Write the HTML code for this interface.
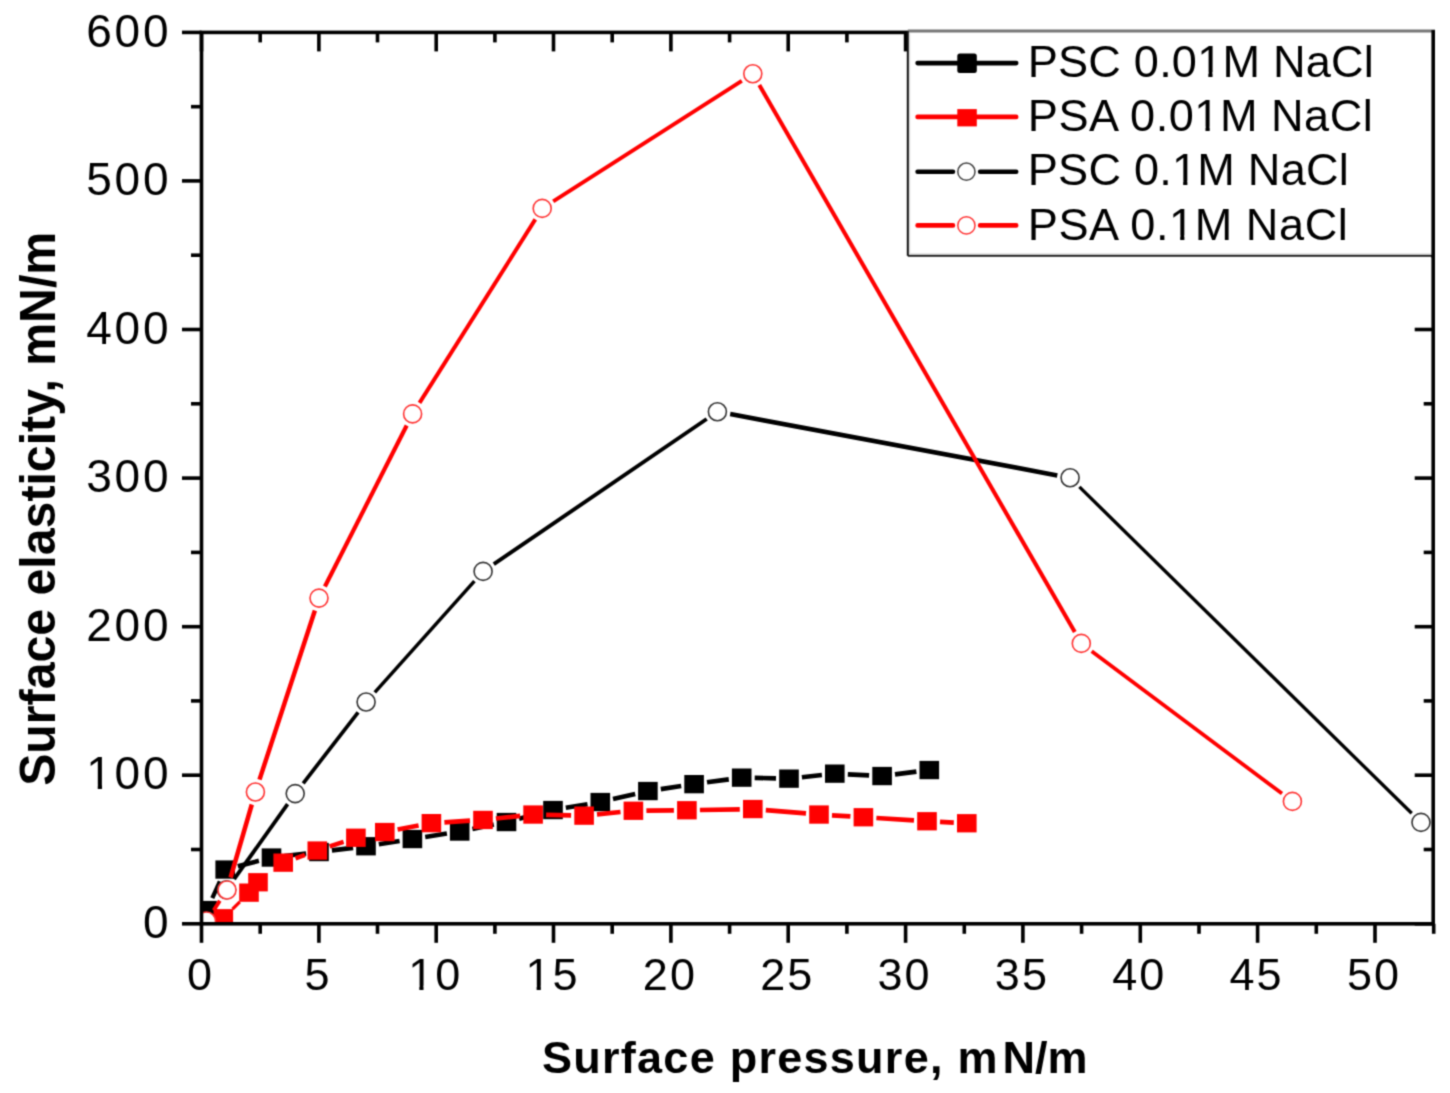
<!DOCTYPE html><html><head><meta charset="utf-8"><style>html,body{margin:0;padding:0;background:#fff;width:1450px;height:1093px;overflow:hidden}svg{position:absolute;left:0;top:0;display:block}text{font-family:"Liberation Sans",sans-serif;fill:#000}</style></head><body><svg width="1450" height="1093" viewBox="0 0 1450 1093"><defs><filter id="soft" x="0" y="0" width="1450" height="1093" filterUnits="userSpaceOnUse" color-interpolation-filters="sRGB"><feConvolveMatrix order="3" kernelMatrix="0.0361 0.1178 0.0361 0.1178 0.3844 0.1178 0.0361 0.1178 0.0361" edgeMode="duplicate"/></filter><clipPath id="pc"><rect x="203.0" y="32.4" width="1230.2" height="890.1"/></clipPath></defs><g filter="url(#soft)"><rect width="1450" height="1093" fill="#fff"/><g stroke="#000" stroke-width="3.6" fill="none"><line x1="182.0" y1="923.8" x2="201.5" y2="923.8"/><line x1="1414.7" y1="923.8" x2="1433.2" y2="923.8"/><line x1="191.0" y1="849.5" x2="201.5" y2="849.5"/><line x1="1423.7" y1="849.5" x2="1433.2" y2="849.5"/><line x1="182.0" y1="775.2" x2="201.5" y2="775.2"/><line x1="1414.7" y1="775.2" x2="1433.2" y2="775.2"/><line x1="191.0" y1="700.9" x2="201.5" y2="700.9"/><line x1="1423.7" y1="700.9" x2="1433.2" y2="700.9"/><line x1="182.0" y1="626.7" x2="201.5" y2="626.7"/><line x1="1414.7" y1="626.7" x2="1433.2" y2="626.7"/><line x1="191.0" y1="552.4" x2="201.5" y2="552.4"/><line x1="1423.7" y1="552.4" x2="1433.2" y2="552.4"/><line x1="182.0" y1="478.1" x2="201.5" y2="478.1"/><line x1="1414.7" y1="478.1" x2="1433.2" y2="478.1"/><line x1="191.0" y1="403.8" x2="201.5" y2="403.8"/><line x1="1423.7" y1="403.8" x2="1433.2" y2="403.8"/><line x1="182.0" y1="329.5" x2="201.5" y2="329.5"/><line x1="1414.7" y1="329.5" x2="1433.2" y2="329.5"/><line x1="191.0" y1="255.2" x2="201.5" y2="255.2"/><line x1="182.0" y1="180.9" x2="201.5" y2="180.9"/><line x1="191.0" y1="106.7" x2="201.5" y2="106.7"/><line x1="182.0" y1="32.4" x2="201.5" y2="32.4"/><line x1="201.5" y1="923.8" x2="201.5" y2="942.8"/><line x1="201.5" y1="32.4" x2="201.5" y2="51.4"/><line x1="260.2" y1="923.8" x2="260.2" y2="933.8"/><line x1="260.2" y1="32.4" x2="260.2" y2="42.4"/><line x1="318.9" y1="923.8" x2="318.9" y2="942.8"/><line x1="318.9" y1="32.4" x2="318.9" y2="51.4"/><line x1="377.5" y1="923.8" x2="377.5" y2="933.8"/><line x1="377.5" y1="32.4" x2="377.5" y2="42.4"/><line x1="436.2" y1="923.8" x2="436.2" y2="942.8"/><line x1="436.2" y1="32.4" x2="436.2" y2="51.4"/><line x1="494.9" y1="923.8" x2="494.9" y2="933.8"/><line x1="494.9" y1="32.4" x2="494.9" y2="42.4"/><line x1="553.5" y1="923.8" x2="553.5" y2="942.8"/><line x1="553.5" y1="32.4" x2="553.5" y2="51.4"/><line x1="612.2" y1="923.8" x2="612.2" y2="933.8"/><line x1="612.2" y1="32.4" x2="612.2" y2="42.4"/><line x1="670.9" y1="923.8" x2="670.9" y2="942.8"/><line x1="670.9" y1="32.4" x2="670.9" y2="51.4"/><line x1="729.6" y1="923.8" x2="729.6" y2="933.8"/><line x1="729.6" y1="32.4" x2="729.6" y2="42.4"/><line x1="788.2" y1="923.8" x2="788.2" y2="942.8"/><line x1="788.2" y1="32.4" x2="788.2" y2="51.4"/><line x1="846.9" y1="923.8" x2="846.9" y2="933.8"/><line x1="846.9" y1="32.4" x2="846.9" y2="42.4"/><line x1="905.6" y1="923.8" x2="905.6" y2="942.8"/><line x1="905.6" y1="32.4" x2="905.6" y2="51.4"/><line x1="964.3" y1="923.8" x2="964.3" y2="933.8"/><line x1="1022.9" y1="923.8" x2="1022.9" y2="942.8"/><line x1="1081.6" y1="923.8" x2="1081.6" y2="933.8"/><line x1="1140.3" y1="923.8" x2="1140.3" y2="942.8"/><line x1="1199.0" y1="923.8" x2="1199.0" y2="933.8"/><line x1="1257.6" y1="923.8" x2="1257.6" y2="942.8"/><line x1="1316.3" y1="923.8" x2="1316.3" y2="933.8"/><line x1="1375.0" y1="923.8" x2="1375.0" y2="942.8"/><line x1="1433.7" y1="923.8" x2="1433.7" y2="933.8"/></g><g clip-path="url(#pc)"><line x1="212.3" y1="898.1" x2="219.9" y2="881.4" stroke="#000" stroke-width="4.29"/><line x1="237.8" y1="866.2" x2="258.9" y2="860.8" stroke="#000" stroke-width="4.55"/><line x1="284.4" y1="856.0" x2="306.1" y2="853.5" stroke="#000" stroke-width="4.67"/><line x1="331.9" y1="850.4" x2="353.1" y2="847.9" stroke="#000" stroke-width="4.67"/><line x1="378.8" y1="844.3" x2="399.6" y2="841.0" stroke="#000" stroke-width="4.64"/><line x1="425.2" y1="837.0" x2="446.9" y2="833.5" stroke="#000" stroke-width="4.64"/><line x1="472.4" y1="828.9" x2="493.8" y2="824.6" stroke="#000" stroke-width="4.61"/><line x1="519.1" y1="818.8" x2="540.4" y2="813.2" stroke="#000" stroke-width="4.55"/><line x1="565.8" y1="807.8" x2="587.5" y2="804.2" stroke="#000" stroke-width="4.63"/><line x1="613.0" y1="799.1" x2="635.2" y2="793.9" stroke="#000" stroke-width="4.58"/><line x1="660.8" y1="789.1" x2="681.2" y2="786.0" stroke="#000" stroke-width="4.65"/><line x1="707.0" y1="782.3" x2="728.8" y2="779.4" stroke="#000" stroke-width="4.66"/><line x1="754.7" y1="777.9" x2="776.0" y2="778.3" stroke="#000" stroke-width="4.70"/><line x1="801.9" y1="777.2" x2="821.9" y2="775.0" stroke="#000" stroke-width="4.67"/><line x1="847.8" y1="774.3" x2="869.1" y2="775.3" stroke="#000" stroke-width="4.69"/><line x1="895.0" y1="774.4" x2="916.4" y2="771.6" stroke="#000" stroke-width="4.66"/><rect x="197.2" y="900.9" width="19.6" height="18.3" fill="#000"/><rect x="215.4" y="860.4" width="19.6" height="18.3" fill="#000"/><rect x="261.7" y="848.4" width="19.6" height="18.3" fill="#000"/><rect x="309.2" y="842.9" width="19.6" height="18.3" fill="#000"/><rect x="356.2" y="837.1" width="19.6" height="18.3" fill="#000"/><rect x="402.6" y="829.9" width="19.6" height="18.3" fill="#000"/><rect x="449.9" y="822.4" width="19.6" height="18.3" fill="#000"/><rect x="496.7" y="812.9" width="19.6" height="18.3" fill="#000"/><rect x="543.2" y="800.9" width="19.6" height="18.3" fill="#000"/><rect x="590.5" y="792.9" width="19.6" height="18.3" fill="#000"/><rect x="638.1" y="781.9" width="19.6" height="18.3" fill="#000"/><rect x="684.3" y="775.0" width="19.6" height="18.3" fill="#000"/><rect x="731.9" y="768.5" width="19.6" height="18.3" fill="#000"/><rect x="779.2" y="769.5" width="19.6" height="18.3" fill="#000"/><rect x="825.0" y="764.5" width="19.6" height="18.3" fill="#000"/><rect x="872.3" y="766.9" width="19.6" height="18.3" fill="#000"/><rect x="919.5" y="760.9" width="19.6" height="18.3" fill="#000"/><line x1="232.5" y1="909.1" x2="239.8" y2="901.8" stroke="#f00" stroke-width="3.32"/><line x1="295.5" y1="858.3" x2="305.0" y2="854.8" stroke="#f00" stroke-width="4.43"/><line x1="329.6" y1="846.4" x2="343.6" y2="841.9" stroke="#f00" stroke-width="4.46"/><line x1="397.6" y1="829.6" x2="418.6" y2="825.5" stroke="#f00" stroke-width="4.62"/><line x1="444.4" y1="822.3" x2="470.0" y2="820.7" stroke="#f00" stroke-width="4.69"/><line x1="495.9" y1="818.5" x2="520.2" y2="815.9" stroke="#f00" stroke-width="4.67"/><line x1="546.1" y1="814.8" x2="571.1" y2="815.3" stroke="#f00" stroke-width="4.70"/><line x1="597.0" y1="814.3" x2="620.5" y2="812.0" stroke="#f00" stroke-width="4.68"/><line x1="646.4" y1="810.6" x2="673.9" y2="810.4" stroke="#f00" stroke-width="4.70"/><line x1="699.9" y1="810.0" x2="739.8" y2="809.3" stroke="#f00" stroke-width="4.70"/><line x1="765.8" y1="810.1" x2="806.0" y2="813.4" stroke="#f00" stroke-width="4.68"/><line x1="832.0" y1="815.3" x2="850.4" y2="816.4" stroke="#f00" stroke-width="4.69"/><line x1="876.4" y1="818.0" x2="914.0" y2="820.4" stroke="#f00" stroke-width="4.69"/><line x1="940.0" y1="821.9" x2="953.8" y2="822.6" stroke="#f00" stroke-width="4.69"/><rect x="213.5" y="909.1" width="19.6" height="18.3" fill="#f00"/><rect x="239.2" y="883.5" width="19.6" height="18.3" fill="#f00"/><rect x="248.2" y="873.1" width="19.6" height="18.3" fill="#f00"/><rect x="273.4" y="853.5" width="19.6" height="18.3" fill="#f00"/><rect x="307.5" y="841.4" width="19.6" height="18.3" fill="#f00"/><rect x="346.1" y="828.6" width="19.6" height="18.3" fill="#f00"/><rect x="375.0" y="822.9" width="19.6" height="18.3" fill="#f00"/><rect x="421.6" y="814.0" width="19.6" height="18.3" fill="#f00"/><rect x="473.2" y="810.8" width="19.6" height="18.3" fill="#f00"/><rect x="523.3" y="805.4" width="19.6" height="18.3" fill="#f00"/><rect x="574.3" y="806.5" width="19.6" height="18.3" fill="#f00"/><rect x="623.6" y="801.6" width="19.6" height="18.3" fill="#f00"/><rect x="677.1" y="801.1" width="19.6" height="18.3" fill="#f00"/><rect x="743.0" y="799.9" width="19.6" height="18.3" fill="#f00"/><rect x="809.2" y="805.4" width="19.6" height="18.3" fill="#f00"/><rect x="853.6" y="808.1" width="19.6" height="18.3" fill="#f00"/><rect x="917.2" y="812.1" width="19.6" height="18.3" fill="#f00"/><rect x="957.0" y="814.1" width="19.6" height="18.3" fill="#f00"/><line x1="234.1" y1="879.2" x2="287.6" y2="804.2" stroke="#000" stroke-width="3.82"/><line x1="303.2" y1="783.3" x2="358.1" y2="712.3" stroke="#000" stroke-width="3.72"/><line x1="374.8" y1="692.3" x2="474.4" y2="581.1" stroke="#000" stroke-width="3.50"/><line x1="493.8" y1="564.1" x2="706.7" y2="419.0" stroke="#000" stroke-width="3.88"/><line x1="730.2" y1="414.1" x2="1057.3" y2="475.4" stroke="#000" stroke-width="4.62"/><line x1="1079.4" y1="486.9" x2="1411.7" y2="813.3" stroke="#000" stroke-width="3.35"/><circle cx="226.5" cy="889.8" r="9.0" fill="#fff" stroke="#333" stroke-width="1.6"/><circle cx="295.2" cy="793.6" r="9.0" fill="#fff" stroke="#333" stroke-width="1.6"/><circle cx="366.1" cy="702" r="9.0" fill="#fff" stroke="#333" stroke-width="1.6"/><circle cx="483.1" cy="571.4" r="9.0" fill="#fff" stroke="#333" stroke-width="1.6"/><circle cx="717.4" cy="411.7" r="9.0" fill="#fff" stroke="#333" stroke-width="1.6"/><circle cx="1070.1" cy="477.8" r="9.0" fill="#fff" stroke="#333" stroke-width="1.6"/><circle cx="1421" cy="822.4" r="9.0" fill="#fff" stroke="#333" stroke-width="1.6"/><line x1="213.7" y1="910.2" x2="219.8" y2="900.8" stroke="#f00" stroke-width="3.92"/><line x1="230.6" y1="877.5" x2="251.8" y2="804.5" stroke="#f00" stroke-width="4.51"/><line x1="259.5" y1="779.6" x2="314.9" y2="610.5" stroke="#f00" stroke-width="4.47"/><line x1="324.9" y1="586.5" x2="406.7" y2="425.5" stroke="#f00" stroke-width="4.19"/><line x1="419.5" y1="402.9" x2="535.3" y2="219.4" stroke="#f00" stroke-width="3.98"/><line x1="553.2" y1="201.4" x2="741.8" y2="80.8" stroke="#f00" stroke-width="3.96"/><line x1="759.3" y1="85.1" x2="1074.8" y2="632.1" stroke="#f00" stroke-width="4.07"/><line x1="1091.7" y1="651.2" x2="1282.0" y2="793.6" stroke="#f00" stroke-width="3.76"/><circle cx="206.5" cy="921" r="9.0" fill="#fff" stroke="#f33" stroke-width="1.6"/><circle cx="227" cy="890" r="9.0" fill="#fff" stroke="#f33" stroke-width="1.6"/><circle cx="255.4" cy="792" r="9.0" fill="#fff" stroke="#f33" stroke-width="1.6"/><circle cx="319" cy="598.1" r="9.0" fill="#fff" stroke="#f33" stroke-width="1.6"/><circle cx="412.6" cy="413.9" r="9.0" fill="#fff" stroke="#f33" stroke-width="1.6"/><circle cx="542.2" cy="208.4" r="9.0" fill="#fff" stroke="#f33" stroke-width="1.6"/><circle cx="752.8" cy="73.8" r="9.0" fill="#fff" stroke="#f33" stroke-width="1.6"/><circle cx="1081.3" cy="643.4" r="9.0" fill="#fff" stroke="#f33" stroke-width="1.6"/><circle cx="1292.4" cy="801.4" r="9.0" fill="#fff" stroke="#f33" stroke-width="1.6"/></g><rect x="201.5" y="32.4" width="1231.7" height="891.4" fill="none" stroke="#000" stroke-width="3.6"/><rect x="907.8" y="31.1" width="525.7" height="224.70000000000002" fill="#fff"/><line x1="907.8" y1="31.1" x2="1435.0" y2="31.1" stroke="#777" stroke-width="3"/><line x1="907.8" y1="31.1" x2="907.8" y2="255.8" stroke="#111" stroke-width="2"/><line x1="907.8" y1="255.8" x2="1433.5" y2="255.8" stroke="#1a1a1a" stroke-width="2"/><line x1="909.8" y1="33.1" x2="909.8" y2="253.8" stroke="#d8d8d8" stroke-width="1"/><line x1="909.8" y1="253.8" x2="1433.5" y2="253.8" stroke="#d8d8d8" stroke-width="1"/><line x1="1433.2" y1="30.1" x2="1433.2" y2="257.8" stroke="#000" stroke-width="3.6"/><line x1="917.6" y1="63.1" x2="1016.2" y2="63.1" stroke="#000" stroke-width="4.6" stroke-linecap="round"/><rect x="957.3" y="53.400000000000006" width="19.5" height="19.5" rx="2.5" fill="#000"/><text x="1027.8" y="76.6" font-size="45.1" textLength="346" lengthAdjust="spacing">PSC 0.01M NaCl</text><line x1="917.6" y1="116.9" x2="1016.2" y2="116.9" stroke="#f00" stroke-width="4.6" stroke-linecap="round"/><rect x="957.3" y="109.10000000000001" width="19.5" height="17.3" fill="#f00"/><text x="1027.8" y="131.2" font-size="45.1" textLength="345" lengthAdjust="spacing">PSA 0.01M NaCl</text><path d="M917.6 171.7H953.0M980.1 171.7H1016.2" stroke="#000" stroke-width="4.6" stroke-linecap="round" fill="none"/><circle cx="966.4" cy="171.7" r="8.6" fill="#fff" stroke="#444" stroke-width="1.5"/><text x="1027.8" y="185.4" font-size="45.1" textLength="321" lengthAdjust="spacing">PSC 0.1M NaCl</text><path d="M917.6 225.4H953.0M980.1 225.4H1016.2" stroke="#f00" stroke-width="4.6" stroke-linecap="round" fill="none"/><circle cx="966.4" cy="225.4" r="8.6" fill="#fff" stroke="#f33" stroke-width="1.5"/><text x="1027.8" y="239.9" font-size="45.1" textLength="320" lengthAdjust="spacing">PSA 0.1M NaCl</text><text x="171.2" y="938.0" font-size="46" text-anchor="end" letter-spacing="2.7">0</text><text x="171.2" y="789.4" font-size="46" text-anchor="end" letter-spacing="2.7">100</text><text x="171.2" y="640.9" font-size="46" text-anchor="end" letter-spacing="2.7">200</text><text x="171.2" y="492.3" font-size="46" text-anchor="end" letter-spacing="2.7">300</text><text x="171.2" y="343.7" font-size="46" text-anchor="end" letter-spacing="2.7">400</text><text x="171.2" y="195.1" font-size="46" text-anchor="end" letter-spacing="2.7">500</text><text x="171.2" y="46.6" font-size="46" text-anchor="end" letter-spacing="2.7">600</text><text x="200.5" y="990.2" font-size="45" text-anchor="middle" letter-spacing="2">0</text><text x="317.9" y="990.2" font-size="45" text-anchor="middle" letter-spacing="2">5</text><text x="435.2" y="990.2" font-size="45" text-anchor="middle" letter-spacing="2">10</text><text x="552.5" y="990.2" font-size="45" text-anchor="middle" letter-spacing="2">15</text><text x="669.9" y="990.2" font-size="45" text-anchor="middle" letter-spacing="2">20</text><text x="787.2" y="990.2" font-size="45" text-anchor="middle" letter-spacing="2">25</text><text x="904.6" y="990.2" font-size="45" text-anchor="middle" letter-spacing="2">30</text><text x="1021.9" y="990.2" font-size="45" text-anchor="middle" letter-spacing="2">35</text><text x="1139.3" y="990.2" font-size="45" text-anchor="middle" letter-spacing="2">40</text><text x="1256.6" y="990.2" font-size="45" text-anchor="middle" letter-spacing="2">45</text><text x="1374.0" y="990.2" font-size="45" text-anchor="middle" letter-spacing="2">50</text><text x="542" y="1072.8" font-size="45" font-weight="bold" textLength="455.5" lengthAdjust="spacing">Surface pressure, m</text><text x="1002.5" y="1072.8" font-size="45" font-weight="bold" textLength="85" lengthAdjust="spacing">N/m</text><text transform="translate(55,785.8) rotate(-90)" x="0" y="0" font-size="50" font-weight="bold" textLength="554" lengthAdjust="spacingAndGlyphs">Surface elasticity, mN/m</text><g id="onefix"><rect x="1199.40" y="72.09" width="8.93" height="5.86" fill="#fff"/><rect x="1212.53" y="72.09" width="9.02" height="5.86" fill="#fff"/><rect x="1196.56" y="126.69" width="8.93" height="5.86" fill="#fff"/><rect x="1209.69" y="126.69" width="9.02" height="5.86" fill="#fff"/><rect x="1174.26" y="180.89" width="8.93" height="5.86" fill="#fff"/><rect x="1187.38" y="180.89" width="9.02" height="5.86" fill="#fff"/><rect x="1171.27" y="235.39" width="8.93" height="5.86" fill="#fff"/><rect x="1184.39" y="235.39" width="9.02" height="5.86" fill="#fff"/><rect x="88.64" y="784.80" width="9.11" height="5.98" fill="#fff"/><rect x="102.03" y="784.80" width="9.20" height="5.98" fill="#fff"/><rect x="410.42" y="985.70" width="8.91" height="5.85" fill="#fff"/><rect x="423.51" y="985.70" width="9.00" height="5.85" fill="#fff"/><rect x="527.72" y="985.70" width="8.91" height="5.85" fill="#fff"/><rect x="540.81" y="985.70" width="9.00" height="5.85" fill="#fff"/></g></g></svg></body></html>
